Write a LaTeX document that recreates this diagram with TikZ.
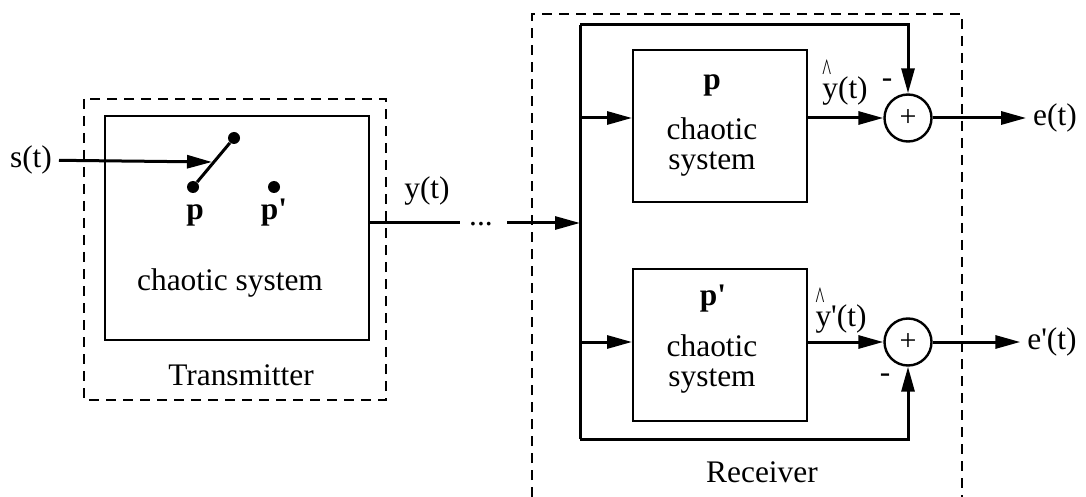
\documentclass[tikz,border=0pt]{standalone}
\usepackage{fontspec}
\setmainfont{Liberation Serif}
\usetikzlibrary{arrows.meta}
\tikzset{
  blk/.style={draw, line width=1pt, inner sep=0pt},
  sumnode/.style={circle, draw, line width=1.2pt, minimum size=23.5pt, inner sep=0pt, font=\fontsize{15}{15}\selectfont},
  swdot/.style={circle, fill, minimum size=6pt, inner sep=0pt},
  sig/.style={line width=1.5pt, -{Triangle[length=12.5pt,width=6.5pt]}},
  wire/.style={line width=1.5pt},
  frame/.style={line width=1.1pt, dash pattern=on 5pt off 3.5pt},
  lbl/.style={font=\fontsize{15.7}{14.8}\selectfont},
  bodytxt/.style={lbl, align=center, inner sep=0pt}
}
\newcommand{\hatlbl}[1]{\rlap{\raisebox{9pt}{\scalebox{0.6}[1]{\textasciicircum}}}#1}
\newcommand{\pr}{\textquotesingle}
\begin{document}
\begin{tikzpicture}[x=0.5pt,y=-0.5pt]
  \useasboundingbox (0,0) rectangle (1086,497);
  % transmitter
  \draw[frame] (84,99) rectangle (386,400);
  \node[blk, minimum width=132pt, minimum height=112pt] (tx) at (237,228) {};
  \node[lbl] (st) at (31,160) {s(t)};
  \coordinate (swtip) at (212,162);
  \node[swdot] (pa) at (193,187) {};
  \node[swdot] (pb) at (274,187) {};
  \node[swdot] (ptop) at (234,138) {};
  \node[lbl, anchor=base] (plbl) at (195,220) {\textbf{p}};
  \node[lbl, anchor=base] (pplbl) at (274,220) {\textbf{p\pr}};
  \node[bodytxt] (txtxt) at (230,283) {chaotic system};
  \node[lbl, anchor=base] (txname) at (241,385) {Transmitter};
  \draw[sig] (st) -- (swtip);
  \draw[wire] (pa) -- (ptop);
  % channel
  \node[lbl, anchor=base] (ylbl) at (427,199) {y(t)};
  \node[lbl, anchor=base] (dots) at (481,226) {...};
  \coordinate (gapl) at (460,223);
  \coordinate (gapr) at (507,223);
  % receiver
  \draw[frame] (532,497) -- (532,14) -- (962,14) -- (962,497);
  \coordinate (bustop) at (580,25);
  \coordinate (busbot) at (580,439);
  \coordinate (b0) at (580,223);
  \coordinate (b1) at (580,118);
  \coordinate (b2) at (580,342);
  \node[blk, minimum width=87pt, minimum height=76pt] (rx1) at (720,126) {};
  \node[blk, minimum width=87pt, minimum height=76pt] (rx2) at (720,345) {};
  \node[lbl, anchor=base] (rx1p) at (712,90) {\textbf{p}};
  \node[bodytxt] (rx1txt) at (712,147) {chaotic\\system};
  \node[lbl, anchor=base] (rx2p) at (713,305) {\textbf{p\pr}};
  \node[bodytxt] (rx2txt) at (712,364) {chaotic\\system};
  \node[sumnode] (sum1) at (908,118) {+};
  \node[sumnode] (sum2) at (908,342) {+};
  \node[lbl, anchor=base, inner sep=1pt] (yh1) at (845,99) {\hatlbl{y(t)}};
  \node[lbl, anchor=base, inner sep=1pt] (yh2) at (841,326) {\hatlbl{y\pr(t)}};
  \node[lbl, inner sep=1pt] (m1) at (887,83) {-};
  \node[lbl, inner sep=1pt] (m2) at (885,378) {-};
  \node[lbl] (e1) at (1055,118) {e(t)};
  \node[lbl] (e2) at (1052,342) {e\pr(t)};
  \node[lbl, anchor=base] (rxname) at (762,482) {Receiver};
  % connections
  \draw[wire] (tx.east |- gapl) -- (gapl);
  \draw[sig] (gapr) -- (b0);
  \draw[wire] (busbot) -- (bustop);
  \draw[sig] (bustop) -| (sum1);
  \draw[sig] (busbot) -| (sum2);
  \draw[sig] (b1) -- (rx1.west |- b1);
  \draw[sig] (b2) -- (rx2.west |- b2);
  \draw[sig] (rx1.east |- sum1) -- (sum1);
  \draw[sig] (rx2.east |- sum2) -- (sum2);
  \draw[sig] (sum1) -- (e1);
  \draw[sig] (sum2) -- (e2);
\end{tikzpicture}
\end{document}
